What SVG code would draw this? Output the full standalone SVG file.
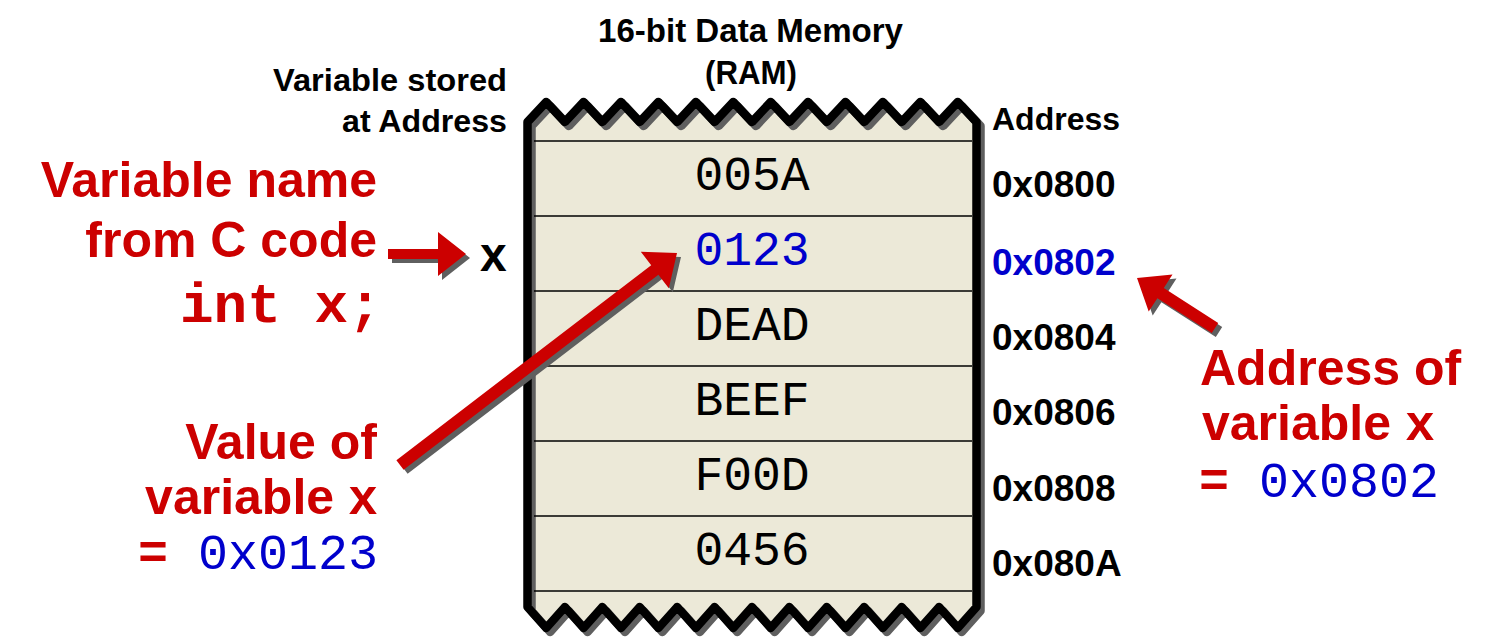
<svg xmlns="http://www.w3.org/2000/svg" width="1506" height="638" viewBox="0 0 1506 638">
<style>
.sans{font-family:"Liberation Sans",Arial,sans-serif;font-weight:bold}
.mono{font-family:"Liberation Mono","Courier New",monospace}
.red{fill:#CC0000}
.blue{fill:#0000CC}
.blk{fill:#000000}
.cell{font-size:48px;text-anchor:middle}
.addr{font-size:37px}
.big{font-size:50px}
.arrow{fill:#CC0000}
.shadow{fill:#5F5F5F}
.rowline{stroke:#000;stroke-width:1.5}
</style>
<defs>
<path id="memshape" d="M527.5,122 L546.2,102 L564.9,122 L583.6,102 L602.3,122 L621,102 L639.7,122 L658.4,102 L677.2,122 L695.9,102 L714.6,122 L733.3,102 L752,122 L770.7,102 L789.4,122 L808.1,102 L826.8,122 L845.5,102 L864.2,122 L882.9,102 L901.7,122 L920.4,102 L939.1,122 L957.8,102 L976.5,122 L976.5,607 L957.8,628 L939.1,607 L920.4,628 L901.7,607 L882.9,628 L864.2,607 L845.5,628 L826.8,607 L808.1,628 L789.4,607 L770.7,628 L752,607 L733.3,628 L714.6,607 L695.9,628 L677.2,607 L658.4,628 L639.7,607 L621,628 L602.3,607 L583.6,628 L564.9,607 L546.2,628 L527.5,607 Z"/>
</defs>
<rect width="1506" height="638" fill="#FFFFFF"/>

<g id="title">
<text class="sans blk" x="598" y="42" font-size="33" textLength="305" lengthAdjust="spacingAndGlyphs">16-bit Data Memory</text>
<text class="sans blk" x="705" y="84" font-size="33" textLength="92" lengthAdjust="spacingAndGlyphs">(RAM)</text>
</g>

<g id="stored-label">
<text class="sans blk" x="273" y="91" font-size="32" textLength="234" lengthAdjust="spacingAndGlyphs">Variable stored</text>
<text class="sans blk" x="342" y="132" font-size="32" textLength="165" lengthAdjust="spacingAndGlyphs">at Address</text>
</g>

<g id="memory">
<use href="#memshape" fill="#ECE9D8"/>
<use href="#memshape" fill="none" stroke="#5F5F5F" stroke-width="8.5" stroke-linejoin="round" transform="translate(4,4)"/>
<use href="#memshape" fill="none" stroke="#000" stroke-width="8.5" stroke-linejoin="round"/>
<line class="rowline" x1="534" y1="141" x2="972" y2="141"/>
<line class="rowline" x1="534" y1="216" x2="972" y2="216"/>
<line class="rowline" x1="534" y1="291" x2="972" y2="291"/>
<line class="rowline" x1="534" y1="366" x2="972" y2="366"/>
<line class="rowline" x1="534" y1="441" x2="972" y2="441"/>
<line class="rowline" x1="534" y1="516" x2="972" y2="516"/>
<line class="rowline" x1="534" y1="591" x2="972" y2="591"/>
</g>

<g id="cell-0800"><text class="mono cell blk" x="752" y="190">005A</text></g>
<g id="cell-0802"><text class="mono cell blue" x="752" y="265">0123</text></g>
<g id="cell-0804"><text class="mono cell blk" x="752" y="340">DEAD</text></g>
<g id="cell-0806"><text class="mono cell blk" x="752" y="415">BEEF</text></g>
<g id="cell-0808"><text class="mono cell blk" x="752" y="490">F00D</text></g>
<g id="cell-080A"><text class="mono cell blk" x="752" y="565">0456</text></g>

<g id="addresses">
<text class="sans blk" x="992" y="130" font-size="32">Address</text>
<text class="sans addr blk" x="992" y="197">0x0800</text>
<text class="sans addr blue" x="992" y="275">0x0802</text>
<text class="sans addr blk" x="992" y="350">0x0804</text>
<text class="sans addr blk" x="992" y="425">0x0806</text>
<text class="sans addr blk" x="992" y="501">0x0808</text>
<text class="sans addr blk" x="992" y="576">0x080A</text>
</g>

<g id="var-x"><text class="sans blk" x="480" y="271" font-size="48">x</text></g>

<g id="name-label">
<text class="sans big red" x="377" y="197" text-anchor="end">Variable name</text>
<text class="sans big red" x="377" y="257" text-anchor="end">from C code</text>
<text class="mono red" x="180" y="322" font-size="56" font-weight="bold">int x;</text>
</g>

<g id="value-label">
<text class="sans big red" x="377" y="459" text-anchor="end">Value of</text>
<text class="sans big red" x="378" y="514" text-anchor="end">variable <tspan class="mono" font-size="50" font-weight="bold">x</tspan></text>
<text class="mono red" x="378" y="569" text-anchor="end" font-size="50"><tspan font-weight="bold">=</tspan> <tspan class="blue">0x0123</tspan></text>
</g>

<g id="address-label">
<text class="sans big red" x="1200" y="385">Address of</text>
<text class="sans big red" x="1202" y="440">variable <tspan class="mono" font-size="50" font-weight="bold">x</tspan></text>
<text class="mono red" x="1199" y="497" font-size="50"><tspan font-weight="bold">=</tspan> <tspan class="blue">0x0802</tspan></text>
</g>

<g id="connectors">
<g transform="translate(4,4)">
<polygon class="shadow" points="388,249 438,249 438,232 466,254 438,276 438,259 388,259"/>
<polygon class="shadow" points="396.4,460.2 651.2,265.2 640.8,251.7 677,253 668.8,288.3 658.4,274.8 403.6,469.8"/>
<polygon class="shadow" points="1218.2,322.9 1163.8,288 1172.5,274.6 1137,278 1148.7,311.6 1157.4,298.2 1211.8,333.1"/>
</g>
<polygon class="arrow" points="388,249 438,249 438,232 466,254 438,276 438,259 388,259"/>
<polygon class="arrow" points="396.4,460.2 651.2,265.2 640.8,251.7 677,253 668.8,288.3 658.4,274.8 403.6,469.8"/>
<polygon class="arrow" points="1218.2,322.9 1163.8,288 1172.5,274.6 1137,278 1148.7,311.6 1157.4,298.2 1211.8,333.1"/>
</g>
</svg>
